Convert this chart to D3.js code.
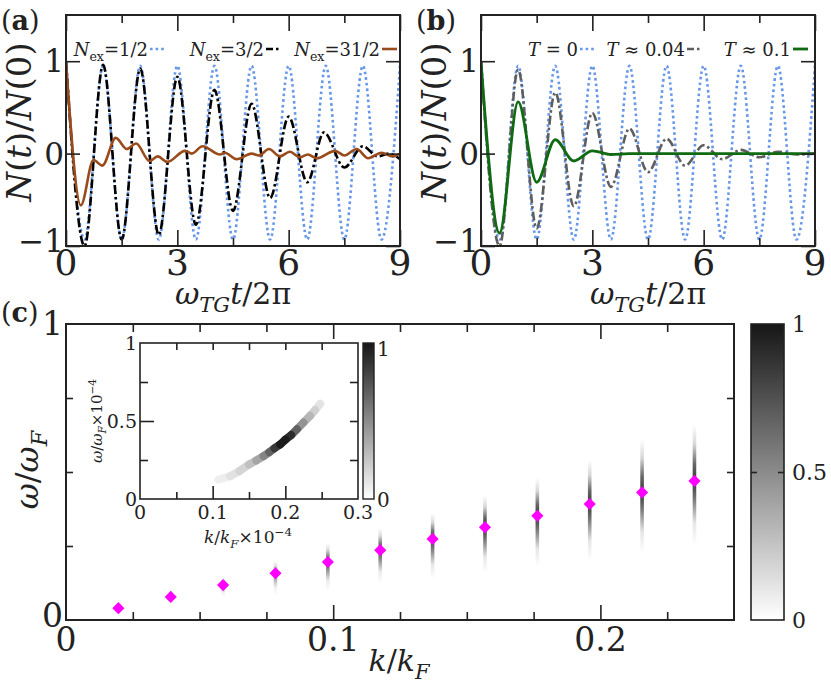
<!DOCTYPE html>
<html lang="en">
<head>
<meta charset="UTF-8">
<title>Oscillation decay and dispersion</title>
<script src="https://d3js.org/d3.v7.min.js"></script>
<style>
  body { margin: 0; background: #fff; }
  svg text { font-family: "DejaVu Serif", serif; }
</style>
</head>
<body>
<svg id="fig" width="831" height="685"></svg>
<script>
// ---- data ----
// time grid of the extrema (half periods), in units of omega_TG t / 2pi
const tHalf = [0,0.5,1,1.5,2,2.5,3,3.5,4,4.5,5,5.5,6,6.5,7,7.5,8,8.5,9];
const nEx05 = [1,-0.93,0.95,-0.93,0.95,-0.93,0.95,-0.93,0.95,-0.93,0.95,-0.93,0.95,-0.93,0.95,-0.93,0.95,-0.93,0.95];

const tEx15 = [0,0.5,1,1.5,2,2.5,3,3.5,4,4.5,5,5.5,6,6.5,6.95,7.5,8,8.4,8.7,9];
const nEx15 = [1,-1,0.96,-0.93,0.92,-0.88,0.83,-0.77,0.69,-0.62,0.54,-0.48,0.40,-0.31,0.23,-0.15,0.08,-0.03,0.0,-0.06];

const tEx31 = [0,0.40,0.74,0.98,1.34,1.64,1.89,2.25,2.47,2.73,3.21,3.39,3.68,4.15,4.28,4.6,5.0,5.2,5.47,5.76,6.03,6.3,6.52,6.75,7.25,7.5,7.83,8.14,8.5,8.8,9];
const nEx31 = [1,-0.56,-0.07,-0.13,0.17,0.05,0.11,-0.08,-0.03,-0.09,0.03,0.0,0.08,-0.01,0.01,-0.06,0.0,-0.02,0.05,-0.03,0.02,-0.04,-0.01,-0.05,0.03,-0.02,0.05,-0.05,0.01,-0.03,0];

const nTau004 = [1,-1,0.91,-0.81,0.66,-0.57,0.44,-0.36,0.27,-0.20,0.16,-0.13,0.09,-0.06,0.04,-0.04,0.02,-0.01,0];
const tTau01 = [0,0.5,1,1.5,2,2.5,3,3.5,4,9];
const nTau01 = [1,-0.86,0.56,-0.31,0.15,-0.08,0.03,-0.01,0,0];

// panel (c): peak positions and spread of the spectral weight
const kPts = [0.0196,0.0392,0.0588,0.0784,0.098,0.1176,0.1372,0.1568,0.1764,0.196,0.2156,0.2352];
const wPts = [0.040,0.078,0.118,0.158,0.196,0.236,0.274,0.313,0.352,0.392,0.431,0.470];
const wLo  = [0.04,0.078,0.075,0.085,0.10,0.125,0.14,0.16,0.18,0.20,0.225,0.25];
const wHi  = [0.04,0.078,0.15,0.20,0.26,0.31,0.36,0.42,0.48,0.54,0.61,0.66];
const wPeak = [0,0,0.3,0.5,0.7,0.75,0.8,0.85,0.85,0.85,0.85,0.85];

// inset band
const kIn = [0.108,0.124,0.137,0.15,0.16,0.17,0.178,0.185,0.193,0.2,0.208,0.216,0.225,0.234,0.241,0.248];
const wIn = [0.125,0.146,0.18,0.221,0.247,0.275,0.30,0.325,0.35,0.38,0.41,0.447,0.49,0.533,0.57,0.61];
const iIn = [0.05,0.1,0.15,0.22,0.32,0.45,0.6,0.75,0.95,1.0,0.8,0.55,0.38,0.25,0.15,0.08];

const tTicksMajor = [0,3,6,9];
const tTicksMinor = [1.5,4.5,7.5];

// ---- helpers ----
const svg = d3.select('#fig');
const defs = svg.append('defs');
const ink = '#222';

// text with italic / sub / sup pieces: [string, flags]  flags: i = italic, b = bold, _ = sub, ^ = sup
function rich(g, x, y, parts, size, anchor) {
  const t = g.append('text').attr('x', x).attr('y', y).attr('fill', ink)
    .attr('font-size', size).attr('text-anchor', anchor || 'start');
  let shift = 0;
  parts.forEach(([s, st]) => {
    st = st || '';
    const ts = t.append('tspan').text(s);
    let target = 0;
    if (st.includes('_')) target = 0.28 * size;
    if (st.includes('^')) target = -0.42 * size;
    ts.attr('dy', target - shift);
    shift = target;
    if (target !== 0) ts.attr('font-size', size * 0.7);
    if (st.includes('i')) ts.attr('font-style', 'italic');
    if (st.includes('b')) ts.attr('font-weight', 'bold');
  });
  return t;
}

function label(g, x, y, s, size, anchor) {
  return g.append('text').attr('x', x).attr('y', y).attr('fill', ink)
    .attr('font-size', size).attr('text-anchor', anchor || 'start').text(s);
}

function ticks(g, scale, vals, len, orient, pos) {
  const ax = (orient === 'x' ? d3.axisBottom(scale) : d3.axisLeft(scale))
    .tickValues(vals).tickSizeInner(len).tickSizeOuter(0).tickFormat('');
  const a = g.append('g')
    .attr('transform', orient === 'x' ? `translate(0,${pos})` : `translate(${pos},0)`)
    .call(ax);
  a.select('.domain').remove();
  a.selectAll('line').attr('stroke', ink).attr('stroke-width', 1.6);
  return a;
}

// ---- panels (a) and (b) ----
function timePanel(x0, tag, curves, legend) {
  const g = svg.append('g');
  const x = d3.scaleLinear([0, 9], [x0, x0 + 334]);
  const y = d3.scaleLinear([-1, 1.5], [246, 15]);
  const clip = 'clip' + tag;
  defs.append('clipPath').attr('id', clip).append('rect')
    .attr('x', x0).attr('y', 15).attr('width', 334).attr('height', 231);

  const line = d3.line().x(d => x(d[0])).y(d => y(d[1])).curve(d3.curveMonotoneX);
  curves.forEach(c => {
    g.append('path').attr('clip-path', `url(#${clip})`)
      .datum(c.t.map((t, i) => [t, c.v[i]]))
      .attr('d', line).attr('fill', 'none')
      .attr('stroke', c.color).attr('stroke-width', c.w)
      .attr('stroke-dasharray', c.dash || null);
  });

  // ticks, inward
  ticks(g, x, tTicksMajor, -16, 'x', 246);
  ticks(g, x, tTicksMinor, -8, 'x', 246);
  ticks(g, x, tTicksMajor, 16, 'x', 15);
  ticks(g, x, tTicksMinor, 8, 'x', 15);
  ticks(g, y, [-1, 0, 1], -14, 'y', x0);
  ticks(g, y, [-1, 0, 1], 14, 'y', x0 + 334);

  g.append('rect').attr('x', x0).attr('y', 15).attr('width', 334).attr('height', 231)
    .attr('fill', 'none').attr('stroke', ink).attr('stroke-width', 2);

  // tick labels
  tTicksMajor.forEach(v => label(g, x(v), 275, v, 36, 'middle'));
  [[1, '1'], [0, '0'], [-1, '\u22121']].forEach(([v, s]) =>
    label(g, x0 - 2, y(v) + (v < 0 ? 6 : 11), s, 31, 'end'));

  // axis titles
  rich(g, x0 + 167, 304, [['\u03c9', 'i'], ['TG', 'i_'], ['t', 'i'], ['/2\u03c0']], 30, 'middle');
  const yl = g.append('g').attr('transform', `translate(${x0 - 35},122) rotate(-90)`);
  rich(yl, 0, 0, [['N', 'i'], ['('], ['t', 'i'], [')/'], ['N', 'i'], ['(0)']], 34, 'middle');

  // panel tag
  rich(g, x0 - 65, 30, [['('], [tag, 'b'], [')']], 27, 'start');

  // legend row: text ends right before its line sample
  legend.forEach(l => {
    rich(g, l.sx - 2, 56, l.label, 18, 'end');
    g.append('line').attr('x1', l.sx).attr('x2', l.sx + 15).attr('y1', 49).attr('y2', 49)
      .attr('stroke', l.color).attr('stroke-width', l.w)
      .attr('stroke-dasharray', l.dash || null);
  });
}

const blue = '#6797e8', brown = '#9a4b1c', green = '#0f6a12', gray = '#5e5e5e';
const dotDash = '2.6 3', dashDot = '9 3 2.5 3';

timePanel(66, 'a', [
  { t: tHalf, v: nEx05, color: blue, w: 2.6, dash: dotDash },
  { t: tEx15, v: nEx15, color: '#000', w: 2.6, dash: dashDot },
  { t: tEx31, v: nEx31, color: brown, w: 2.6 }
], [
  { sx: 150, label: [['N', 'i'], ['ex', '_'], ['=1/2']], color: blue, w: 2.6, dash: dotDash },
  { sx: 266, label: [['N', 'i'], ['ex', '_'], ['=3/2']], color: '#000', w: 2.6, dash: '7 3 2.5 3' },
  { sx: 382, label: [['N', 'i'], ['ex', '_'], ['=31/2']], color: brown, w: 2.6 }
]);

timePanel(481, 'b', [
  { t: tHalf, v: nEx05, color: blue, w: 2.6, dash: dotDash },
  { t: tHalf, v: nTau004, color: gray, w: 2.6, dash: dashDot },
  { t: tTau01, v: nTau01, color: green, w: 2.8 }
], [
  { sx: 580, label: [['T', 'i'], [' = 0']], color: blue, w: 2.6, dash: dotDash },
  { sx: 687, label: [['T', 'i'], [' \u2248 0.04']], color: gray, w: 2.6, dash: '7 3 2.5 3' },
  { sx: 793, label: [['T', 'i'], [' \u2248 0.1']], color: green, w: 2.8 }
]);

// ---- panel (c) ----
const gc = svg.append('g');
const xc = d3.scaleLinear([0, 0.25], [66, 734]);
const yc = d3.scaleLinear([0, 1], [620, 324]);
const gray01 = d3.scaleLinear([0, 1], ['#ffffff', '#161616']);

// spectral weight smears
kPts.forEach((k, i) => {
  if (wPeak[i] <= 0) return;
  const id = 'sm' + i, lo = wLo[i], hi = wHi[i];
  const f = (wPts[i] - lo) / (hi - lo);
  const gr = defs.append('linearGradient').attr('id', id)
    .attr('x1', 0).attr('y1', 1).attr('x2', 0).attr('y2', 0);
  [[0, 0], [f * 0.35, 0.12], [f * 0.75, 0.7], [f, 1], [f + (1 - f) * 0.3, 0.75], [f + (1 - f) * 0.65, 0.2], [1, 0]]
    .forEach(([o, a]) => gr.append('stop').attr('offset', o)
      .attr('stop-color', '#111').attr('stop-opacity', a * wPeak[i]));
  gc.append('rect').attr('x', xc(k) - 1.8).attr('width', 3.6)
    .attr('y', yc(hi)).attr('height', yc(lo) - yc(hi)).attr('fill', `url(#${id})`);
});

gc.selectAll('path.pk').data(kPts).join('path').attr('class', 'pk')
  .attr('d', d3.symbol(d3.symbolSquare, 74))
  .attr('transform', (k, i) => `translate(${xc(k)},${yc(wPts[i])}) rotate(45)`)
  .attr('fill', '#ff00ff');

const kMinor = d3.range(0, 10).map(i => i * 0.025).filter((v, i) => i % 4 !== 0);
ticks(gc, xc, [0.1, 0.2], -15, 'x', 620);
ticks(gc, xc, kMinor, -8, 'x', 620);
ticks(gc, xc, [0.1, 0.2], 15, 'x', 324);
ticks(gc, xc, kMinor, 8, 'x', 324);
ticks(gc, yc, [0.25, 0.5, 0.75], -7, 'y', 66);
ticks(gc, yc, [0.25, 0.5, 0.75], 7, 'y', 734);
gc.append('rect').attr('x', 66).attr('y', 324).attr('width', 668).attr('height', 296)
  .attr('fill', 'none').attr('stroke', ink).attr('stroke-width', 2);

[[0, '0'], [0.1, '0.1'], [0.2, '0.2']].forEach(([v, s]) => label(gc, xc(v), 651, s, 33, 'middle'));
[[0, '0'], [1, '1']].forEach(([v, s]) => label(gc, 63, yc(v) + (v ? 11 : 7), s, 33, 'end'));

rich(gc, 399, 671, [['k', 'i'], ['/'], ['k', 'i'], ['F', 'i_']], 30, 'middle');
const ycl = gc.append('g').attr('transform', 'translate(38,470) rotate(-90)');
rich(ycl, 0, 0, [['\u03c9', 'i'], ['/'], ['\u03c9', 'i'], ['F', 'i_']], 32, 'middle');
rich(gc, 1, 322, [['('], ['c', 'b'], [')']], 27, 'start');

// colorbar
const cb = defs.append('linearGradient').attr('id', 'cbar')
  .attr('x1', 0).attr('y1', 1).attr('x2', 0).attr('y2', 0);
[0, 0.5, 1].forEach(v => cb.append('stop').attr('offset', v).attr('stop-color', gray01(v)));
gc.append('rect').attr('x', 751).attr('y', 324).attr('width', 33).attr('height', 296)
  .attr('fill', 'url(#cbar)').attr('stroke', ink).attr('stroke-width', 1.6);
const ycb = d3.scaleLinear([0, 1], [620, 324]);
ticks(gc, ycb, [0.5], -6, 'y', 751);
ticks(gc, ycb, [0.5], 6, 'y', 784);
[[1, '1'], [0.5, '0.5'], [0, '0']].forEach(([v, s]) => label(gc, 792, ycb(v) + 8, s, 22));

// ---- inset ----
const gi = svg.append('g');
const xi = d3.scaleLinear([0, 0.3], [140, 358]);
const yi = d3.scaleLinear([0, 1], [499, 343]);
gi.append('rect').attr('x', 140).attr('y', 343).attr('width', 218).attr('height', 156).attr('fill', '#fff');

const segs = d3.range(kIn.length - 1).map(i => ({
  x1: xi(kIn[i]), y1: yi(wIn[i]), x2: xi(kIn[i + 1]), y2: yi(wIn[i + 1]),
  c: (iIn[i] + iIn[i + 1]) / 2
})).sort((a, b) => a.c - b.c);
gi.selectAll('line.band').data(segs).join('line').attr('class', 'band')
  .attr('x1', d => d.x1).attr('y1', d => d.y1).attr('x2', d => d.x2).attr('y2', d => d.y2)
  .attr('stroke', d => gray01(d.c)).attr('stroke-width', 8).attr('stroke-linecap', 'round');

ticks(gi, xi, [0.1, 0.2], -13, 'x', 499);
ticks(gi, xi, [0.05, 0.15, 0.25], -7, 'x', 499);
ticks(gi, xi, [0.05, 0.1, 0.15, 0.2, 0.25], 7, 'x', 343);
ticks(gi, yi, [0.5], -14, 'y', 140);
ticks(gi, yi, [0.25, 0.75], -8, 'y', 140);
ticks(gi, yi, [0.25, 0.5, 0.75], 8, 'y', 358);
gi.append('rect').attr('x', 140).attr('y', 343).attr('width', 218).attr('height', 156)
  .attr('fill', 'none').attr('stroke', ink).attr('stroke-width', 1.6);

[[0, '0'], [0.1, '0.1'], [0.2, '0.2'], [0.3, '0.3']].forEach(([v, s]) => label(gi, xi(v), 519, s, 19, 'middle'));
[[0, '0'], [0.5, '0.5'], [1, '1']].forEach(([v, s]) => label(gi, 137, yi(v) + 7, s, 19, 'end'));

rich(gi, 248, 543, [['k', 'i'], ['/'], ['k', 'i'], ['F', 'i_'], ['\u00d710'], ['\u22124', '^']], 17, 'middle');
const yil = gi.append('g').attr('transform', 'translate(102,421) rotate(-90)');
rich(yil, 0, 0, [['\u03c9', 'i'], ['/'], ['\u03c9', 'i'], ['F', 'i_'], ['\u00d710'], ['\u22124', '^']], 15, 'middle');

gi.append('rect').attr('x', 363).attr('y', 343).attr('width', 11).attr('height', 156)
  .attr('fill', 'url(#cbar)').attr('stroke', ink).attr('stroke-width', 1.4);
label(gi, 377, 356, '1', 20);
label(gi, 377, 507, '0', 20);
</script>
</body>
</html>
